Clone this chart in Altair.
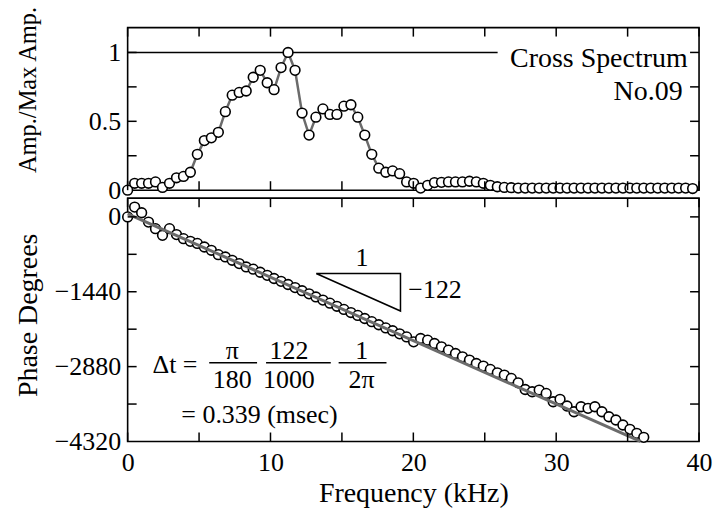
import altair as alt
import pandas as pd

FONT = "Liberation Serif"
W = 573
H_TOP = 163
H_BOT = 244

# ---- data ----
freq = [0.00, 0.49, 0.98, 1.46, 1.95, 2.44, 2.93, 3.42, 3.91, 4.39,
        4.88, 5.37, 5.86, 6.35, 6.84, 7.32, 7.81, 8.30, 8.79, 9.28,
        9.77, 10.25, 10.74, 11.23, 11.72, 12.21, 12.70, 13.18, 13.67, 14.16,
        14.65, 15.14, 15.63, 16.11, 16.60, 17.09, 17.58, 18.07, 18.55, 19.04,
        19.53, 20.02, 20.51, 21.00, 21.48, 21.97, 22.46, 22.95, 23.44, 23.93,
        24.41, 24.90, 25.39, 25.88, 26.37, 26.86, 27.34, 27.83, 28.32, 28.81,
        29.30, 29.79, 30.27, 30.76, 31.25, 31.74, 32.23, 32.71, 33.20, 33.69,
        34.18, 34.67, 35.16, 35.64, 36.13, 36.62, 37.11, 37.60, 38.09, 38.57,
        39.06, 39.55]

amp = [0.00, 0.05, 0.05, 0.05, 0.06, 0.02, 0.05, 0.09, 0.10, 0.13,
       0.26, 0.36, 0.38, 0.42, 0.57, 0.69, 0.71, 0.72, 0.82, 0.87,
       0.78, 0.73, 0.89, 1.00, 0.87, 0.56, 0.40, 0.53, 0.59, 0.55,
       0.55, 0.61, 0.62, 0.53, 0.40, 0.26, 0.16, 0.13, 0.14, 0.12,
       0.06, 0.05, 0.015, 0.035, 0.055, 0.057, 0.06, 0.06, 0.06, 0.065,
       0.06, 0.05, 0.035, 0.025, 0.02, 0.018, 0.015, 0.015, 0.015, 0.015,
       0.015, 0.015, 0.015, 0.015, 0.015, 0.015, 0.015, 0.015, 0.015, 0.015,
       0.015, 0.015, 0.015, 0.015, 0.015, 0.015, 0.015, 0.015, 0.015, 0.015,
       0.015, 0.012]

phase = [0, 188, 80, -100, -227, -355, -227, -341, -419, -470,
         -510, -579, -643, -726, -771, -835, -899, -963, -1005, -1065,
         -1125, -1185, -1240, -1300, -1360, -1420, -1480, -1540, -1600, -1660,
         -1720, -1780, -1840, -1895, -1955, -2015, -2075, -2135, -2190, -2250,
         -2308, -2404, -2339, -2371, -2435, -2500, -2563, -2627, -2692, -2755,
         -2819, -2870, -2934, -2999, -3043, -3107, -3191, -3320, -3363, -3331,
         -3395, -3556, -3510, -3638, -3748, -3652, -3683, -3652, -3748, -3844,
         -3907, -4003, -4086, -4163, -4240]

fit_freq = [0.0, 35.9]
fit_phase = [60, -4320]

x_ticks = [0, 5, 10, 15, 20, 25, 30, 35, 40]
x_labels = [0, 10, 20, 30, 40]
amp_ticks = [0.25, 0.5, 0.75, 1.0]
amp_labels = [0, 0.5, 1]
phase_ticks = [0, -720, -1440, -2160, -2880, -3600]
phase_labels = [0, -1440, -2880, -4320]

# annotations
ref_f = [0.0, 25.9]
ref_a = [1.0, 1.0]
top_text = ["Cross Spectrum", "No.09"]
top_text_f = [39.2, 38.85]
top_text_a = [0.95, 0.715]

tri_f = [13.2, 19.1, 19.1, 13.2]
tri_p = [-1090, -1090, -1810, -1090]

ctr_text = ["1", "\u03c0", "180", "122", "1000", "1", "2\u03c0"]
ctr_f = [16.4, 7.32, 7.32, 11.29, 11.29, 16.38, 16.38]
ctr_p = [-800, -2575, -3135, -2575, -3135, -2575, -3135]

left_text = ["\u0394t =", "= 0.339 (msec)", "\u2212122"]
left_f = [1.74, 3.76, 19.65]
left_p = [-2850, -3805, -1416]

bar_f0 = [5.71, 9.69, 14.77]
bar_f1 = [9.06, 14.22, 18.12]
bar_p = [-2805, -2805, -2805]

# ---- frames ----
top_df = pd.DataFrame({"f": freq, "a": amp})
bot_df = pd.DataFrame({"f": freq[:len(phase)], "p": phase})
fit_df = pd.DataFrame({"f": fit_freq, "p": fit_phase})
ref_df = pd.DataFrame({"f": [ref_f[0]], "f1": [ref_f[1]], "a": [ref_a[0]]})
toptext_df = pd.DataFrame({"f": top_text_f, "a": top_text_a, "t": top_text})
tri_df = pd.DataFrame({"f": tri_f, "p": tri_p, "o": list(range(len(tri_f)))})
ctr_df = pd.DataFrame({"f": ctr_f, "p": ctr_p, "t": ctr_text})
left_df = pd.DataFrame({"f": left_f, "p": left_p, "t": left_text})
bar_df = pd.DataFrame({"f": bar_f0, "f1": bar_f1, "p": bar_p})

xs = alt.Scale(domain=[0, 40], nice=False, zero=False)
ys_top = alt.Scale(domain=[0, 1.18], nice=False, zero=False)
ys_bot = alt.Scale(domain=[-4320, 360], nice=False, zero=False)

TICK = 9
GRAY = "#6b6b6b"

# axes (same object used on every layer of a panel)
x_top_axis = alt.Axis(values=x_labels, title=None, labels=False, grid=False,
                      domain=False, tickSize=0)
amp_axis = alt.Axis(values=amp_labels, format="~g", title="Amp./Max Amp.",
                    grid=False, domain=False, tickSize=0, labelPadding=7,
                    titleFontSize=24.5,
                    titleX=-99, titleY=62, titleAngle=270,
                    titleAlign="center", titleBaseline="middle")
freq_axis = alt.Axis(values=x_labels, format="d", title="Frequency (kHz)",
                     grid=False, domain=False, tickSize=0, labelPadding=8,
                     titleFontSize=28, titleY=38, titleBaseline="top")
phase_axis = alt.Axis(values=phase_labels, format="d", title="Phase Degrees",
                      grid=False, domain=False, tickSize=0, labelPadding=7,
                      titleFontSize=28,
                      titleX=-99, titleY=117, titleAngle=270,
                      titleAlign="center", titleBaseline="middle")


def X(field, axis):
    return alt.X(field, scale=xs, axis=axis)


def x_tick_rules(h, axis):
    d = pd.DataFrame({"f": x_ticks})
    b = alt.Chart(d).mark_rule(color="black", strokeWidth=1.5)
    return [b.encode(x=X("f:Q", axis), y=alt.value(h), y2=alt.value(h - TICK)),
            b.encode(x=X("f:Q", axis), y=alt.value(0), y2=alt.value(TICK))]


def y_tick_rules(vals, field, scale, axis):
    d = pd.DataFrame({field: vals})
    b = alt.Chart(d).mark_rule(color="black", strokeWidth=1.5)
    return [b.encode(y=alt.Y(field + ":Q", scale=scale, axis=axis), x=alt.value(0), x2=alt.value(TICK)),
            b.encode(y=alt.Y(field + ":Q", scale=scale, axis=axis), x=alt.value(W), x2=alt.value(W - TICK))]


# ---- top panel ----
def YT(field):
    return alt.Y(field, scale=ys_top, axis=amp_axis)


top_line = alt.Chart(top_df).mark_line(color=GRAY, strokeWidth=2.5).encode(
    x=X("f:Q", x_top_axis), y=YT("a:Q"))
top_pts = alt.Chart(top_df).mark_point(shape="circle", filled=True, fill="white",
                                       stroke="black", strokeWidth=1.6, size=95,
                                       opacity=1).encode(
    x=X("f:Q", x_top_axis), y=YT("a:Q"))
top_ref = alt.Chart(ref_df).mark_rule(color="black", strokeWidth=1.5).encode(
    x=X("f:Q", x_top_axis), x2="f1:Q", y=YT("a:Q"))
top_txt = alt.Chart(toptext_df).mark_text(font=FONT, fontSize=28, color="black",
                                          align="right", baseline="middle").encode(
    x=X("f:Q", x_top_axis), y=YT("a:Q"), text="t:N")

top = alt.layer(top_line, top_ref, top_pts, top_txt,
                *x_tick_rules(H_TOP, x_top_axis),
                *y_tick_rules(amp_ticks, "a", ys_top, amp_axis)).properties(
    width=W, height=H_TOP)


# ---- bottom panel ----
def YB(field):
    return alt.Y(field, scale=ys_bot, axis=phase_axis)


bot_pts = alt.Chart(bot_df).mark_point(shape="circle", filled=True, fill="white",
                                       stroke="black", strokeWidth=1.6, size=95,
                                       opacity=1).encode(
    x=X("f:Q", freq_axis), y=YB("p:Q"))
fit_line = alt.Chart(fit_df).mark_line(color=GRAY, strokeWidth=3).encode(
    x=X("f:Q", freq_axis), y=YB("p:Q"))
tri = alt.Chart(tri_df).mark_line(color="black", strokeWidth=1.5).encode(
    x=X("f:Q", freq_axis), y=YB("p:Q"), order="o:Q")
ctr = alt.Chart(ctr_df).mark_text(font=FONT, fontSize=26, color="black",
                                  align="center", baseline="middle").encode(
    x=X("f:Q", freq_axis), y=YB("p:Q"), text="t:N")
lft = alt.Chart(left_df).mark_text(font=FONT, fontSize=26, color="black",
                                   align="left", baseline="middle").encode(
    x=X("f:Q", freq_axis), y=YB("p:Q"), text="t:N")
bars = alt.Chart(bar_df).mark_rule(color="black", strokeWidth=1.5).encode(
    x=X("f:Q", freq_axis), x2="f1:Q", y=YB("p:Q"))

bottom = alt.layer(bot_pts, fit_line, tri, ctr, lft, bars,
                   *x_tick_rules(H_BOT, freq_axis),
                   *y_tick_rules(phase_ticks, "p", ys_bot, phase_axis)).properties(
    width=W, height=H_BOT)

chart = alt.vconcat(top, bottom, spacing=8, bounds="flush").configure_view(
    stroke="black", strokeWidth=1.6
).configure_axis(
    labelFont=FONT, labelFontSize=26, labelColor="black",
    labelOverlap=False, labelFlush=False,
    titleFont=FONT, titleFontWeight="normal", titleColor="black"
).properties(
    background="white",
    padding={"left": 14, "top": 4, "right": 0, "bottom": 4}
)

chart.save("out.html", embed_options={"renderer": "svg", "actions": False})
